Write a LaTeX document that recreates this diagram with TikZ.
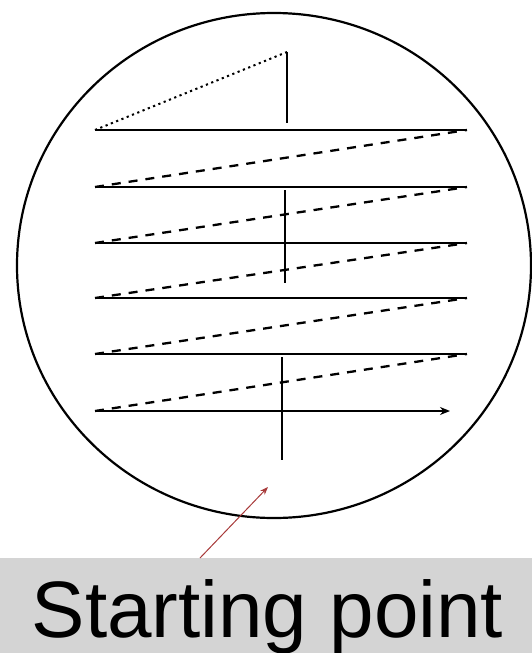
\documentclass[tikz,border=0pt]{standalone}
\usepackage{fontspec}
\setmainfont{Liberation Sans}
\usepackage{tikz}
\usepackage{xcolor}
\usetikzlibrary{arrows.meta,positioning,calc}

\definecolor{bandgray}{HTML}{D4D4D4}
\definecolor{arrowred}{HTML}{A83A3A}

\tikzset{
    pass/.style={black, line width=2.2pt},
    retrace/.style={black, line width=2.3pt, dash pattern=on 9pt off 8pt},
    firstpass/.style={black, line width=2pt, dash pattern=on 2.2pt off 3.5pt},
    tick/.style={black, line width=2.2pt}
}

\begin{document}
\begin{tikzpicture}[x=1pt, y=-1pt]
        \useasboundingbox (0,0) rectangle (532,653);

        % Label band
        \fill[bandgray] (0,558) rectangle (532,653);
        \node[anchor=base, inner sep=0pt, font=\fontsize{80}{96}\selectfont] (label) at (267.5,637) {Starting point};

        % Field of view
        \draw[black, line width=2.2pt] (274,265.5) ellipse (257 and 252.5);

        % Line ends, left and right
        \coordinate (L1) at (95,130);  \coordinate (R1) at (467,130);
        \coordinate (L2) at (95,187);  \coordinate (R2) at (467,187);
        \coordinate (L3) at (95,243);  \coordinate (R3) at (467,243);
        \coordinate (L4) at (95,298);  \coordinate (R4) at (467,298);
        \coordinate (L5) at (95,354);  \coordinate (R5) at (467,354);
        \coordinate (L6) at (95,411);  \coordinate (E6) at (450,411);
        \coordinate (top) at (287,52);

        % Solid passes
        \draw[pass] (L1) -- (R1);
        \draw[pass] (L2) -- (R2);
        \draw[pass] (L3) -- (R3);
        \draw[pass] (L4) -- (R4);
        \draw[pass] (L5) -- (R5);
        \draw[pass, -{Stealth[length=10pt, width=8pt]}] (L6) -- (E6);

        % Dashed returns
        \draw[retrace] (L6) -- (R5);
        \draw[retrace] (L5) -- (R4);
        \draw[retrace] (L4) -- (R3);
        \draw[retrace] (L3) -- (R2);
        \draw[retrace] (L2) -- (R1);
        \draw[firstpass] (L1) -- (top);

        % Centre ticks
        \draw[tick] (top) -- (287,123);
        \draw[tick] (285,190) -- (285,283);
        \draw[tick] (282,357) -- (282,460);

        % Pointer to start
        \coordinate (tail) at (200,558);
        \coordinate (start) at (268,487);
        \draw[arrowred, line width=1pt, -{Stealth[length=8pt, width=6pt]}] (tail) -- (start);
    \end{tikzpicture}
\end{document}
